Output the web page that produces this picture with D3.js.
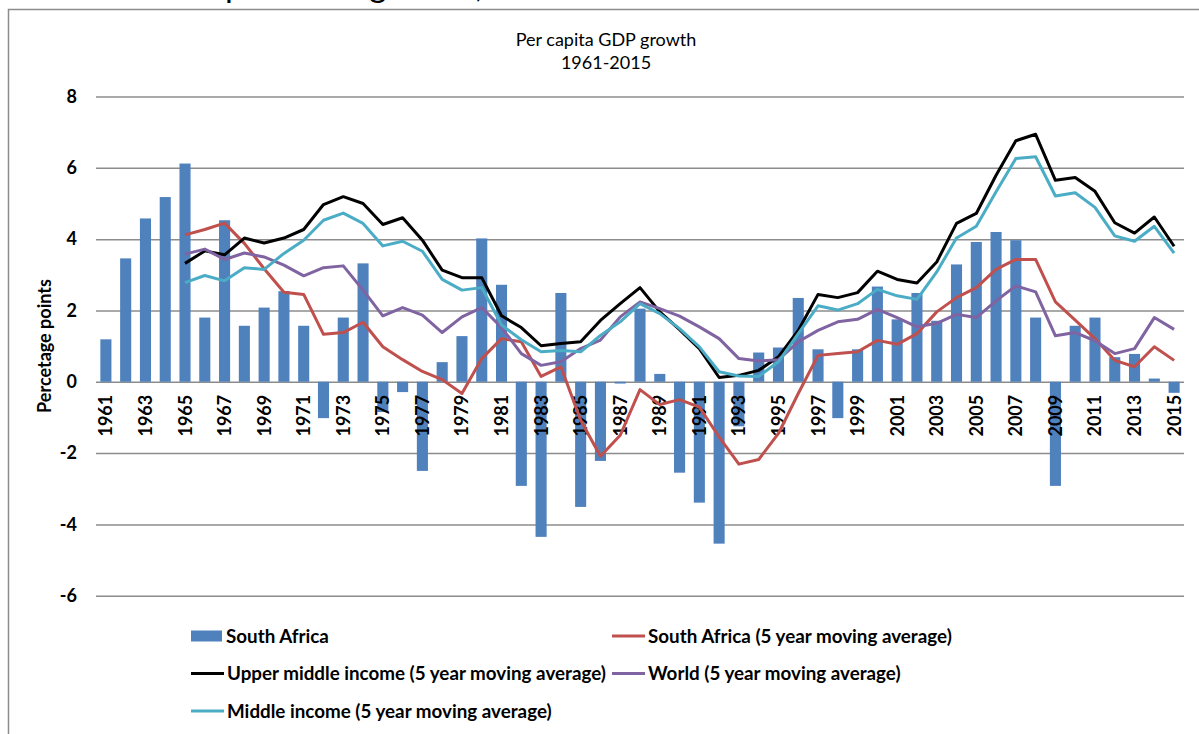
<!DOCTYPE html>
<html>
<head>
<meta charset="utf-8">
<script src="https://cdn.jsdelivr.net/npm/d3@7"></script>
<style>
  body { margin: 0; background: #fff; }
  svg { display: block; font-family: Lato, "Open Sans", sans-serif; }
</style>
</head>
<body>
<script>
var width = 1199,
    height = 734;

// categories
var years = d3.range(1961, 2016);
var maYears = d3.range(1965, 2016);
var yTicks = [-6, -4, -2, 0, 2, 4, 6, 8];

// South Africa annual per capita growth (bars)
var southAfrica = [1.19, 3.46, 4.58, 5.18, 6.12, 1.80, 4.53, 1.57, 2.08, 2.54,
  1.57, -1.02, 1.80, 3.32, -0.85, -0.29, -2.50, 0.55, 1.28, 4.02,
  2.72, -2.92, -4.35, 2.49, -3.51, -2.22, -0.05, 2.05, 0.22, -2.55,
  -3.39, -4.54, -1.25, 0.82, 0.96, 2.35, 0.91, -1.02, 0.91, 2.67,
  1.75, 2.49, 1.71, 3.29, 3.92, 4.20, 3.97, 1.80, -2.92, 1.57,
  1.80, 0.69, 0.78, 0.09, -0.31];

// 5 year moving averages, 1965-2015
var saMA = [4.12, 4.27, 4.45, 3.88, 3.17, 2.51, 2.45, 1.33, 1.38, 1.67,
  0.98, 0.62, 0.29, 0.06, -0.33, 0.65, 1.21, 1.12, 0.15, 0.42,
  -1.08, -2.09, -1.50, -0.22, -0.64, -0.50, -0.71, -1.55, -2.31, -2.18,
  -1.45, -0.33, 0.74, 0.79, 0.84, 1.16, 1.05, 1.35, 1.96, 2.36,
  2.64, 3.15, 3.43, 3.43, 2.24, 1.73, 1.21, 0.60, 0.42, 0.98, 0.60];
var upperMiddleMA = [3.32, 3.67, 3.56, 4.03, 3.89, 4.03, 4.27, 4.97, 5.19, 5.00,
  4.41, 4.60, 3.97, 3.13, 2.92, 2.92, 1.85, 1.52, 1.01, 1.07,
  1.12, 1.72, 2.19, 2.64, 1.96, 1.46, 0.93, 0.12, 0.18, 0.32,
  0.70, 1.44, 2.45, 2.36, 2.50, 3.10, 2.87, 2.77, 3.36, 4.44,
  4.72, 5.79, 6.76, 6.94, 5.65, 5.73, 5.34, 4.46, 4.17, 4.62, 3.80];
var worldMA = [3.58, 3.72, 3.43, 3.61, 3.50, 3.27, 2.97, 3.20, 3.25, 2.57,
  1.85, 2.08, 1.87, 1.38, 1.82, 2.08, 1.52, 0.79, 0.46, 0.56,
  0.93, 1.17, 1.82, 2.24, 2.05, 1.84, 1.54, 1.21, 0.65, 0.58,
  0.62, 1.12, 1.44, 1.68, 1.75, 2.03, 1.80, 1.54, 1.64, 1.89,
  1.80, 2.27, 2.69, 2.52, 1.29, 1.38, 1.15, 0.79, 0.93, 1.80, 1.47];
var middleMA = [2.78, 2.98, 2.83, 3.20, 3.15, 3.60, 3.97, 4.53, 4.73, 4.44,
  3.81, 3.94, 3.66, 2.87, 2.57, 2.64, 1.59, 1.18, 0.84, 0.88,
  0.84, 1.30, 1.68, 2.19, 1.91, 1.49, 0.98, 0.28, 0.16, 0.15,
  0.56, 1.35, 2.13, 2.01, 2.19, 2.59, 2.41, 2.31, 3.08, 4.03,
  4.36, 5.33, 6.26, 6.31, 5.21, 5.30, 4.89, 4.09, 3.94, 4.36, 3.61];

var lines = [
  { name: "South Africa (5 year moving average)", values: saMA, color: "#C0504D" },
  { name: "Upper middle income (5 year moving average)", values: upperMiddleMA, color: "#000000" },
  { name: "World (5 year moving average)", values: worldMA, color: "#8064A2" },
  { name: "Middle income (5 year moving average)", values: middleMA, color: "#4BACC6" }
];

var svg = d3.select("body").append("svg")
    .attr("width", width)
    .attr("height", height);

// heading of the page, only its descenders show at the top edge
var heading = svg.append("text")
    .attr("x", 140)
    .attr("y", -3)
    .attr("font-size", 34)
    .text("Per capita GDP growth, 1961-2015");
// line the "p" of "capita" up with the reference
var pAt = heading.node().getStartPositionOfChar(6).x;
heading.attr("x", 140 + (225 - pAt));

// chart border
svg.append("path")
    .attr("d", "M8.5," + height + "V9.5H" + width)
    .attr("fill", "none")
    .attr("stroke", "#8c8c8c")
    .attr("stroke-width", 1.5);

var x = d3.scaleBand()
    .domain(years)
    .range([96, 1184])
    .paddingInner(0.44)
    .paddingOuter(0.22);

var y = d3.scaleLinear()
    .domain([-6, 8])
    .range([595.7, 96.5]);

var cx = function(yr) { return x(yr) + x.bandwidth() / 2; };

// title
svg.append("text")
    .attr("x", 606).attr("y", 46)
    .attr("text-anchor", "middle")
    .attr("font-size", 18)
    .text("Per capita GDP growth");
svg.append("text")
    .attr("x", 606).attr("y", 69)
    .attr("text-anchor", "middle")
    .attr("font-size", 18)
    .text("1961-2015");

// gridlines + y labels
var yAxis = svg.append("g")
    .attr("transform", "translate(96,0)")
    .call(d3.axisLeft(y)
      .tickValues(yTicks)
      .tickFormat(function(d) { return String(d); })
      .tickSize(-1088)
      .tickPadding(19));
yAxis.select(".domain").remove();
yAxis.selectAll(".tick line").attr("stroke", "#8c8c8c").attr("stroke-width", 1.5);
yAxis.selectAll(".tick text")
    .attr("font-family", "Lato, sans-serif")
    .attr("font-size", 18)
    .attr("font-weight", "bold")
    .attr("fill", "#000");

svg.append("text")
    .attr("transform", "translate(51,346) rotate(-90)")
    .attr("text-anchor", "middle")
    .attr("font-size", 18)
    .attr("font-weight", "bold")
    .text("Percetage points");

// bars
svg.append("g").selectAll("rect")
    .data(southAfrica)
    .join("rect")
    .attr("x", function(d, i) { return x(years[i]); })
    .attr("width", x.bandwidth())
    .attr("y", function(d) { return y(Math.max(0, d)); })
    .attr("height", function(d) { return Math.abs(y(d) - y(0)); })
    .attr("fill", "#4F81BD");

// x labels
var xAxis = svg.append("g")
    .attr("transform", "translate(0," + y(0) + ")")
    .call(d3.axisBottom(x)
      .tickValues(years.filter(function(d) { return (d - 1961) % 2 === 0; }))
      .tickSize(0));
xAxis.select(".domain").remove();
xAxis.selectAll(".tick text")
    .attr("font-family", "Lato, sans-serif")
    .attr("font-size", 18)
    .attr("font-weight", "bold")
    .attr("fill", "#000")
    .attr("text-anchor", "end")
    .attr("transform", "rotate(-90)")
    .attr("x", -13)
    .attr("y", 0)
    .attr("dy", "0.36em");

// moving average lines
var line = d3.line()
    .x(function(d, i) { return cx(maYears[i]); })
    .y(function(d) { return y(d); });

svg.append("g").selectAll("path")
    .data(lines)
    .join("path")
    .attr("d", function(d) { return line(d.values); })
    .attr("fill", "none")
    .attr("stroke", function(d) { return d.color; })
    .attr("stroke-width", 3)
    .attr("stroke-linejoin", "round");

// legend
var legendItems = [
  { name: "South Africa", color: "#4F81BD", bar: true, col: 0, row: 0 },
  { name: lines[0].name, color: lines[0].color, col: 1, row: 0 },
  { name: lines[1].name, color: lines[1].color, col: 0, row: 1 },
  { name: lines[2].name, color: lines[2].color, col: 1, row: 1 },
  { name: lines[3].name, color: lines[3].color, col: 0, row: 2 }
];
var colX = [191, 612],
    rowY = [636, 673.5, 711];

var legend = svg.append("g").selectAll("g")
    .data(legendItems)
    .join("g")
    .attr("transform", function(d) { return "translate(" + colX[d.col] + "," + rowY[d.row] + ")"; });

legend.filter(function(d) { return d.bar; }).append("rect")
    .attr("x", 0).attr("y", -5.5)
    .attr("width", 31).attr("height", 11)
    .attr("fill", function(d) { return d.color; });
legend.filter(function(d) { return !d.bar; }).append("line")
    .attr("x1", 0).attr("x2", 33)
    .attr("stroke", function(d) { return d.color; })
    .attr("stroke-width", 3);
legend.append("text")
    .attr("x", function(d) { return d.bar ? 35 : 36; })
    .attr("dy", "0.36em")
    .attr("font-size", 18.8)
    .attr("font-weight", "bold")
    .text(function(d) { return d.name; });
</script>
</body>
</html>
